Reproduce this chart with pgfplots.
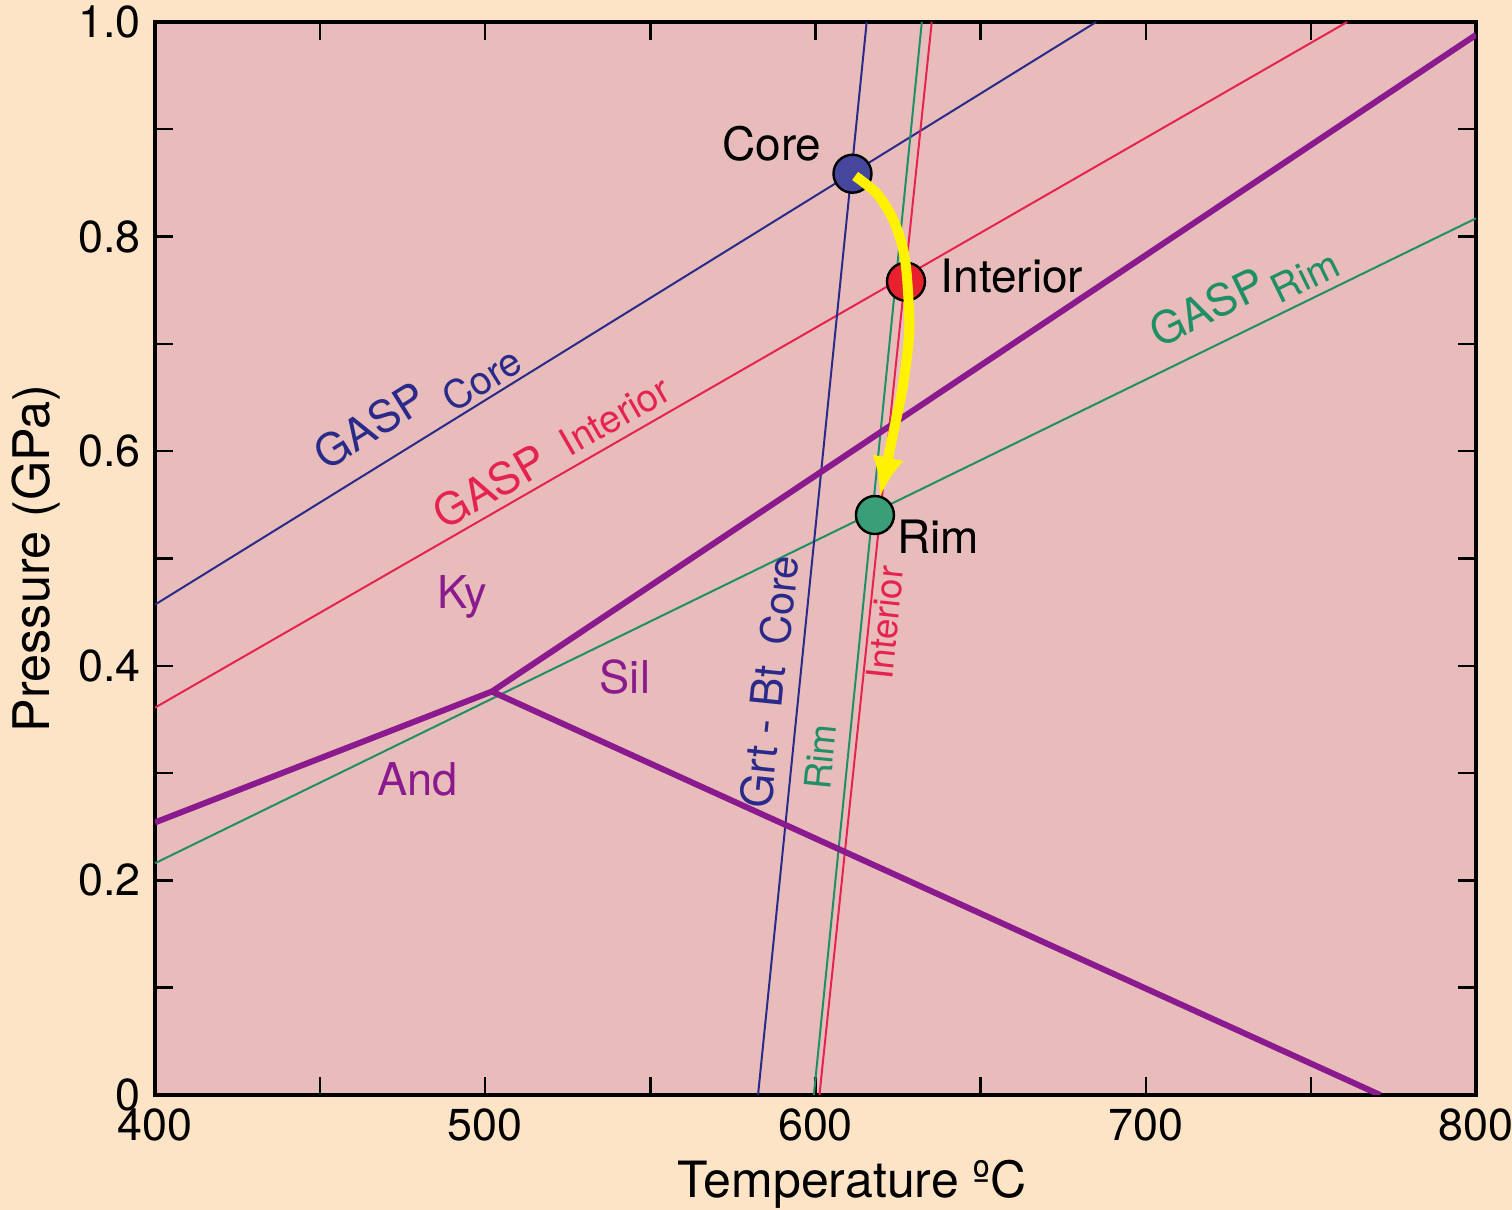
\documentclass[border=0pt]{standalone}
\usepackage{fontspec}
\setmainfont{TeX Gyre Heros}
\usepackage{pgfplots}
\pgfplotsset{compat=1.18}
\usetikzlibrary{arrows.meta}
\definecolor{peach}{HTML}{FDE4C6}
\definecolor{plotbg}{HTML}{E9BCBC}
\definecolor{cblue}{HTML}{2A2A8A}
\definecolor{cred}{HTML}{E52350}
\definecolor{cgreen}{HTML}{1F8F66}
\definecolor{cpurple}{HTML}{8A1A8E}
\definecolor{pcore}{HTML}{46479C}
\definecolor{pint}{HTML}{E8212F}
\definecolor{prim}{HTML}{3A9E78}
\tikzset{lbl/.style={inner sep=0pt}}
\begin{document}
\begin{tikzpicture}
\path[fill=peach, use as bounding box] (-38.75pt,-28.75pt) rectangle (339.25pt,273.75pt);
\begin{axis}[
  at={(0,0)}, anchor=south west,
  scale only axis, width=330.25pt, height=268.25pt,
  xmin=400, xmax=800, ymin=0, ymax=1,
  clip marker paths=true,
  axis background/.style={fill=plotbg},
  xtick={400,500,600,700,800},
  xticklabels={400,500,600,700,800},
  minor xtick={450,550,650,750},
  ytick={0,0.2,0.4,0.6,0.8,1},
  yticklabels={0,0.2,0.4,0.6,0.8,1.0},
  minor ytick={0.1,0.3,0.5,0.7,0.9},
  major tick length=4.5pt, minor tick length=4.5pt,
  tick style={black, line width=0.6pt},
  axis line style={line width=0.8pt},
  tick align=inside,
  /pgf/number format/assume math mode=true,
  tick label style={font=\fontsize{11.2}{13}\selectfont},
  xlabel={Temperature ºC},
  ylabel={Pressure (GPa)},
  xlabel style={font=\fontsize{12.5}{14}\selectfont, at={(axis description cs:0.528,-0.0951)}, anchor=base},
  ylabel style={font=\fontsize{12.6}{14}\selectfont, at={(axis description cs:-0.0795,0.5)}, anchor=base},
]
% GASP lines
\addplot[cblue, line width=0.5pt] coordinates {(400,0.457) (685,1.0)};
\addplot[cred, line width=0.5pt] coordinates {(400,0.361) (761,1.0)};
\addplot[cgreen, line width=0.5pt] coordinates {(400,0.216) (800,0.817)};
% Grt-Bt lines
\addplot[cblue, line width=0.5pt] coordinates {(582.6,0) (615.5,1.0)};
\addplot[cgreen, line width=0.5pt] coordinates {(599.5,0) (632.2,1.0)};
\addplot[cred, line width=0.5pt] coordinates {(601.2,0) (635.2,1.0)};
% Aluminosilicate phase diagram
\addplot[cpurple, line width=1.5pt] coordinates {(400,0.254) (502,0.376) (800,0.988)};
\addplot[cpurple, line width=1.5pt] coordinates {(502,0.376) (771,0)};
% points
\addplot[only marks, mark=*, mark size=4.75pt, mark options={fill=pcore, draw=black, line width=0.6pt}] coordinates {(611.2,0.8586)};
\addplot[only marks, mark=*, mark size=4.75pt, mark options={fill=pint, draw=black, line width=0.6pt}] coordinates {(627.4,0.758)};
\addplot[only marks, mark=*, mark size=4.75pt, mark options={fill=prim, draw=black, line width=0.6pt}] coordinates {(618.0,0.5405)};
% P-T path
\addplot[yellow, line width=2.5pt, smooth, -{Latex[length=10pt,width=8pt]}] coordinates {
 (612.0,0.8565) (618.5,0.8403) (623.1,0.8185) (626.1,0.7937) (627.6,0.7658) (628.4,0.7129) (626.5,0.6617) (623.1,0.6104) (619.5,0.5573)};
% labels
\node[lbl, rotate=31.9, text=cblue, font=\fontsize{11}{13}\selectfont] at (axis cs:465.1,0.624) {GASP};
\node[lbl, rotate=31.9, text=cblue, font=\fontsize{9.8}{12}\selectfont] at (axis cs:499.0,0.667) {Core};
\node[lbl, rotate=29.9, text=cred, font=\fontsize{11}{13}\selectfont] at (axis cs:501.4,0.567) {GASP};
\node[lbl, rotate=29.9, text=cred, font=\fontsize{9.6}{12}\selectfont] at (axis cs:539.2,0.633) {Interior};
\node[lbl, rotate=26.0, text=cgreen, font=\fontsize{11}{13}\selectfont] at (axis cs:718.5,0.734) {GASP};
\node[lbl, rotate=26.0, text=cgreen, font=\fontsize{9.8}{12}\selectfont] at (axis cs:748.2,0.763) {Rim};
\node[lbl, rotate=84.25, text=cblue, font=\fontsize{11}{13}\selectfont] at (axis cs:584.0,0.334) {Grt - Bt};
\node[lbl, rotate=84.25, text=cblue, font=\fontsize{10.4}{12}\selectfont] at (axis cs:589.0,0.461) {Core};
\node[lbl, rotate=84.27, text=cgreen, font=\fontsize{9.2}{11}\selectfont] at (axis cs:601.4,0.315) {Rim};
\node[lbl, rotate=84.04, text=cred, font=\fontsize{9.2}{11}\selectfont] at (axis cs:621.0,0.440) {Interior};
\node[lbl, text=cpurple, font=\fontsize{11.3}{13}\selectfont] at (axis cs:493.0,0.464) {Ky};
\node[lbl, text=cpurple, font=\fontsize{11.3}{13}\selectfont] at (axis cs:542.3,0.390) {Sil};
\node[lbl, text=cpurple, font=\fontsize{11.3}{13}\selectfont] at (axis cs:479.6,0.294) {And};
\node[lbl, text=black, font=\fontsize{11.5}{13}\selectfont] at (axis cs:586.8,0.887) {Core};
\node[lbl, text=black, font=\fontsize{11.5}{13}\selectfont] at (axis cs:659.5,0.763) {Interior};
\node[lbl, text=black, font=\fontsize{11.5}{13}\selectfont] at (axis cs:637.1,0.520) {Rim};
\end{axis}
\end{tikzpicture}
\end{document}
